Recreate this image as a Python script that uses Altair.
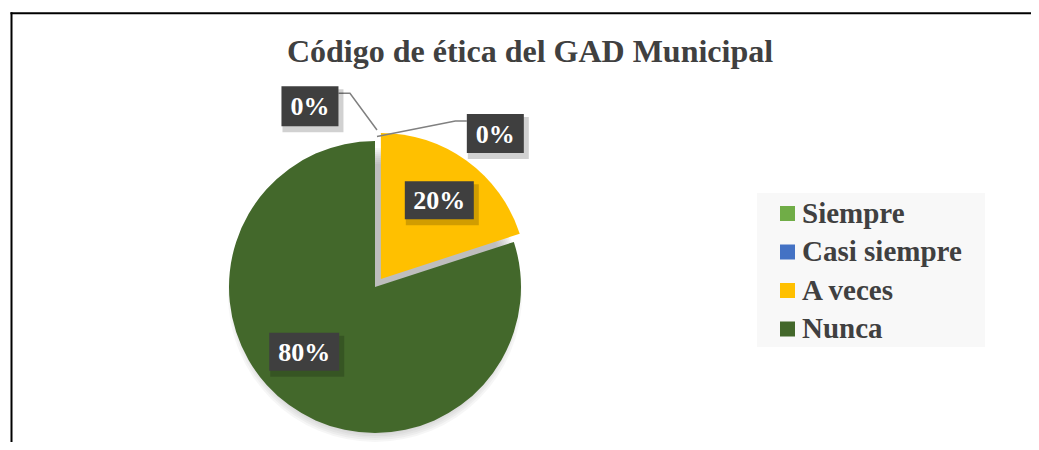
import math
import altair as alt
import pandas as pd

# ---------------- data ----------------
categories = ["Siempre", "Casi siempre", "A veces", "Nunca"]
values = [0, 0, 20, 80]
label_texts = ["0%", "0%", "20%", "80%"]
colors = ["#70ad47", "#4472c4", "#ffc000", "#43682b"]
title_text = "Código de ética del GAD Municipal"

# ---------------- layout / style ----------------
W, H = 1023, 434
CX, CY, R = 367, 279, 146
EXPLODE = [0, 0, 10, 0]
LABEL_ANGLE_OFFSET = [-19.8, 38.1, 0.6, 11.5]   # degrees from slice middle
LABEL_DIST = [192, 195, 98, 96]                  # px from slice centre
BOX_W = [57, 57, 69, 70]
BOX_H = [40, 39, 38, 38]
SERIF = "Liberation Serif"
DARK = "#404040"

# ---------------- derived table ----------------
total = sum(values)
rows = []
cum = 0.0
for i, cat in enumerate(categories):
    start = cum / total * 100
    cum += values[i]
    end = cum / total * 100
    mid = math.radians((start + end) / 2 * 3.6)
    ccx = CX + EXPLODE[i] * math.sin(mid)
    ccy = CY - EXPLODE[i] * math.cos(mid)
    la = mid + math.radians(LABEL_ANGLE_OFFSET[i])
    lx = ccx + LABEL_DIST[i] * math.sin(la)
    ly = ccy - LABEL_DIST[i] * math.cos(la)
    hw, hh = BOX_W[i] / 2, BOX_H[i] / 2
    rows.append(dict(category=cat, value=values[i], start=start, end=end,
                     cx=ccx, cy=ccy, lx=lx, ly=ly, sx=lx + 3, sy=ly + 4,
                     label=label_texts[i],
                     box=f"M{-hw},{-hh}H{hw}V{hh}H{-hw}Z",
                     shadow=f"M{-hw-2},{-hh-1}H{hw+2}V{hh+2}H{-hw-2}Z"))
df = pd.DataFrame(rows)

# leader lines for the zero-value labels (box edge -> elbow -> pie rim)
lead = []
for i, r in df.iterrows():
    if r["value"] != 0:
        continue
    hw, hh = BOX_W[i] / 2, BOX_H[i] / 2
    side = 1 if r["lx"] < r["cx"] else -1
    bx = r["lx"] + side * hw
    by = r["ly"] - hh + 7
    ex = bx + side * 11.5
    rim = R + (11 if side == 1 else 4.5)
    mid = math.radians((r["start"] + r["end"]) / 2 * 3.6)
    px = r["cx"] + 2 + rim * math.sin(mid)
    py = r["cy"] - rim * math.cos(mid)
    for k, (x, y) in enumerate([(bx, by), (ex, by), (px, py)]):
        lead.append(dict(category=r["category"], ord=k, x=x, y=y))
lead_df = pd.DataFrame(lead)

shadow_df = pd.DataFrame({"r": [R + 2.2 * k for k in range(1, 10)]})
shadow_df["size"] = math.pi * shadow_df["r"] ** 2
shadow_df["x"] = CX
shadow_df["y"] = CY + 8

X = lambda f: alt.X(f, type="quantitative", scale=None, axis=None)
Y = lambda f: alt.Y(f, type="quantitative", scale=None, axis=None)

base = alt.Chart(df)
one = pd.DataFrame({"a": [0]})

# chart frame (open at right and bottom, as in the cropped original)
frame_top = alt.Chart(one).mark_rect(color="black").encode(
    x=alt.value(2.5), x2=alt.value(W), y=alt.value(4.3), y2=alt.value(6.3))
frame_left = alt.Chart(one).mark_rect(color="black").encode(
    x=alt.value(2.5), x2=alt.value(4.5), y=alt.value(4.3), y2=alt.value(H))

legend_bg = alt.Chart(one).mark_rect(color="#f8f8f8").encode(
    x=alt.value(749), x2=alt.value(977), y=alt.value(185), y2=alt.value(339))

pie_shadow = alt.Chart(shadow_df).mark_circle(color="#7f7f7f", opacity=0.07).encode(
    x=X("x"), y=Y("y"), size=alt.Size("size:Q", scale=None, legend=None))

arcs = base.mark_arc(radius=R, stroke=None).encode(
    x=X("cx"), y=Y("cy"),
    theta=alt.Theta("start:Q", scale=alt.Scale(domain=[0, 100], range=[0, 2 * math.pi])),
    theta2="end:Q",
    color=alt.Color("category:N",
                    scale=alt.Scale(domain=categories, range=colors),
                    legend=alt.Legend(orient="none", legendX=765, legendY=191, title=None,
                                      symbolType="square", symbolSize=225, symbolStrokeWidth=0,
                                      labelFont=SERIF, labelFontSize=29, labelFontWeight="bold",
                                      labelColor=DARK, labelOffset=0, rowPadding=8.5, padding=0,
                                      labelLimit=400)),
    order=alt.Order("start:Q"),
)

leaders = alt.Chart(lead_df).mark_line(color="#808080", strokeWidth=1.5).encode(
    x=X("x"), y=Y("y"), detail="category:N", order="ord:Q")

box_shadow = base.mark_point(filled=True, color="#000000", opacity=0.18, size=4, strokeWidth=0).encode(
    x=X("sx"), y=Y("sy"), shape=alt.Shape("shadow:N", scale=None, legend=None))

boxes = base.mark_point(filled=True, color="#3f3f3f", opacity=1, size=4, strokeWidth=0).encode(
    x=X("lx"), y=Y("ly"), shape=alt.Shape("box:N", scale=None, legend=None))

texts = base.mark_text(font=SERIF, fontSize=26, fontWeight="bold", color="white",
                       align="center", baseline="middle", dy=1).encode(
    x=X("lx"), y=Y("ly"), text="label:N")

title = alt.Chart(pd.DataFrame({"t": [title_text]})).mark_text(
    font=SERIF, fontSize=32, fontWeight="bold", color=DARK, align="center",
    baseline="alphabetic").encode(x=alt.value(522), y=alt.value(54), text="t:N")

chart = alt.layer(frame_top, frame_left, legend_bg, pie_shadow, arcs, leaders,
                  box_shadow, boxes, texts, title).properties(
    width=W, height=H, autosize=alt.AutoSizeParams(type="none"), padding=0
).configure_view(stroke=None)

chart.save("out.html", embed_options={"renderer": "svg", "actions": False})
